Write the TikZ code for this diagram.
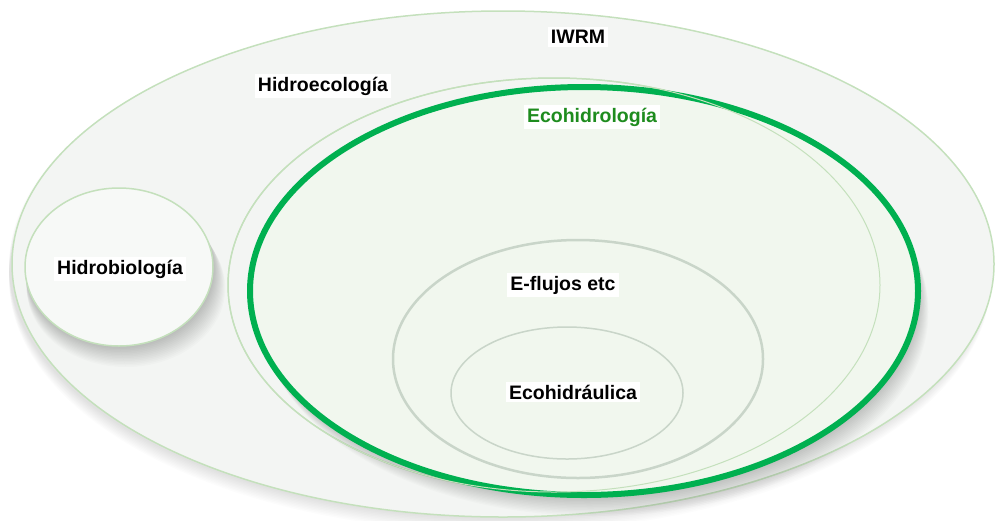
\documentclass[tikz,border=0pt]{standalone}
\usepackage{fontspec}
\setmainfont{Liberation Sans}
\definecolor{rim}{HTML}{C4E0BC}
\definecolor{pale}{HTML}{F3F5F3}
\definecolor{paler}{HTML}{F7F9F7}
\definecolor{leaf}{HTML}{F1F7EE}
\definecolor{eco}{HTML}{00B050}
\definecolor{ecotext}{HTML}{1E8C1E}
\definecolor{ring}{HTML}{C9D5C9}
\begin{document}
\begin{tikzpicture}[x=1pt,y=-1pt,
  lbl/.style={fill=white,inner sep=3pt,font=\fontsize{19.5}{22}\selectfont\bfseries}]
   \useasboundingbox (0,0) rectangle (1008,520);
   % IWRM
   \foreach \s in {1.5,3,...,15}
     \fill[black,opacity=.01] (500,264+\s) ellipse [x radius=491pt, y radius=253pt];
   \draw[rim,line width=1.5pt,fill=pale] (503,264) ellipse [x radius=491pt, y radius=253pt];
   % Hidrobiologia
   \foreach \s in {1.5,3,...,21}
     \fill[black,opacity=.014] (119+\s/3,267+\s) ellipse [x radius=94pt+\s pt/4, y radius=79pt];
   \draw[rim,line width=1.5pt,fill=paler] (119,267) ellipse [x radius=94pt, y radius=79pt];
   % Hidroecologia
   \draw[rim,line width=1.5pt,fill=pale] (554,285) ellipse [x radius=326pt, y radius=207pt];
   % Ecohidrologia
   \foreach \s in {1.5,3,...,21}
     \fill[black,opacity=.016] (584+\s/2,291+\s) ellipse [x radius=334pt, y radius=204pt];
   \draw[eco,line width=6pt,fill=leaf] (584,291) ellipse [x radius=334pt, y radius=204pt];
   \draw[rim,line width=1pt] (554,285) ellipse [x radius=326pt, y radius=207pt];
   % E-flujos, Ecohidraulica
   \draw[ring,line width=2.5pt] (578,359) ellipse [x radius=185pt, y radius=119pt];
   \draw[ring,line width=1.5pt] (567,393) ellipse [x radius=116pt, y radius=66pt];

   \node[lbl] (iwrm) at (578,37) {IWRM};
   \node[lbl] (hidroeco) at (323,86) {Hidroecología};
   \node[lbl,text=ecotext] (ecohidro) at (592,117) {Ecohidrología};
   \node[lbl] (hidrobio) at (120,269) {Hidrobiología};
   \node[lbl] (eflujos) at (563,285) {E-flujos etc};
   \node[lbl] (ecohidra) at (573,392) {Ecohidráulica};
\end{tikzpicture}
\end{document}
